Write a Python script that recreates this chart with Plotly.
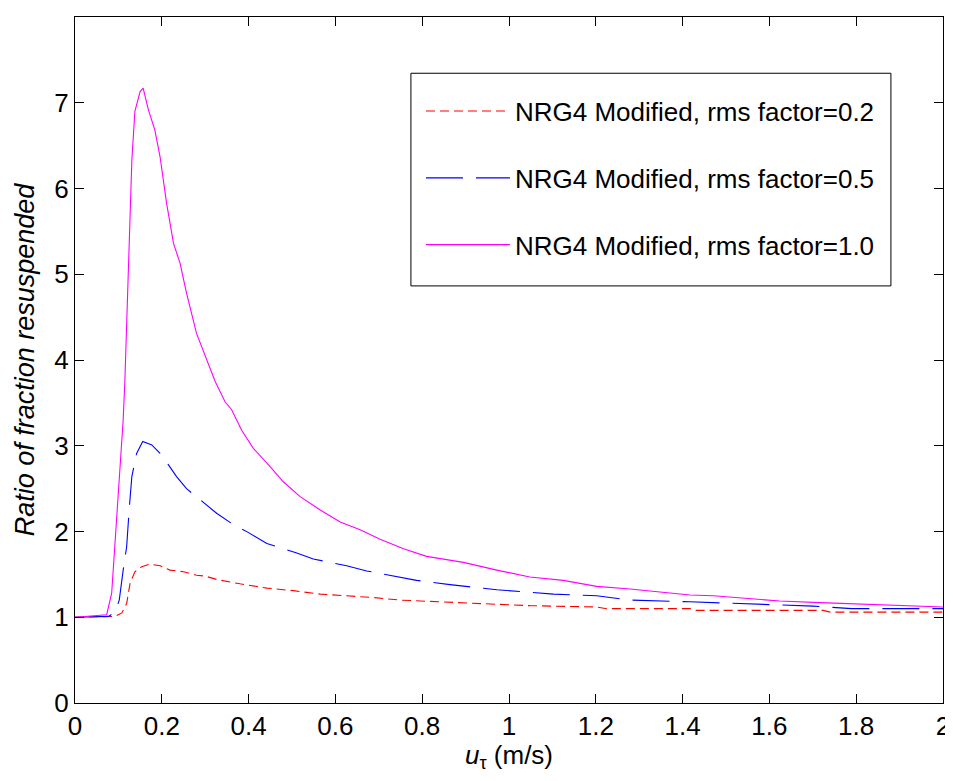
import plotly.graph_objects as go

# rms factor = 0.2 (red, dashed)
u_02 = [0.0, 0.092, 0.108, 0.119, 0.127, 0.138, 0.154, 0.173, 0.196, 0.219, 0.250, 0.280, 0.300,
        0.327, 0.380, 0.442, 0.503, 0.565, 0.626, 0.687, 0.749, 0.841, 0.895, 0.972, 1.048,
        1.202, 1.225, 1.417, 1.432, 1.724, 1.740, 2.0]
r_02 = [1.0, 1.01, 1.05, 1.16, 1.40, 1.53, 1.59, 1.62, 1.60, 1.55, 1.53, 1.49, 1.48,
        1.44, 1.39, 1.34, 1.31, 1.27, 1.25, 1.23, 1.20, 1.18, 1.17, 1.155, 1.135,
        1.12, 1.10, 1.10, 1.08, 1.08, 1.06, 1.06]

# rms factor = 0.5 (blue, long dash)
u_05 = [0.0, 0.077, 0.092, 0.102, 0.111, 0.119, 0.125, 0.131, 0.142, 0.156, 0.177, 0.196, 0.215,
        0.234, 0.257, 0.288, 0.327, 0.365, 0.399, 0.442, 0.511, 0.549, 0.626, 0.672, 0.745,
        0.787, 0.818, 0.864, 0.972, 1.048, 1.102, 1.202, 1.279, 1.417, 1.548, 1.70, 1.79, 2.0]
r_05 = [1.0, 1.01, 1.06, 1.20, 1.55, 1.82, 2.27, 2.64, 2.91, 3.05, 3.01, 2.91, 2.78,
        2.64, 2.50, 2.37, 2.21, 2.08, 1.99, 1.86, 1.75, 1.68, 1.60, 1.54, 1.47,
        1.43, 1.41, 1.38, 1.32, 1.29, 1.27, 1.25, 1.20, 1.18, 1.155, 1.13, 1.10, 1.10]

# rms factor = 1.0 (magenta, solid)
u_10 = [0.0, 0.073, 0.0845, 0.096, 0.111, 0.115, 0.123, 0.131, 0.138, 0.150, 0.157, 0.169, 0.184,
        0.196, 0.211, 0.227, 0.242, 0.257, 0.280, 0.300, 0.323, 0.346, 0.361, 0.384, 0.411,
        0.449, 0.480, 0.518, 0.565, 0.611, 0.657, 0.703, 0.757, 0.810, 0.864, 0.895, 0.972,
        1.048, 1.125, 1.202, 1.279, 1.356, 1.417, 1.471, 1.548, 1.624, 1.717, 1.816, 1.947, 2.0]
r_10 = [1.0, 1.03, 1.28, 2.13, 3.30, 3.77, 4.93, 6.33, 6.90, 7.13, 7.17, 6.92, 6.68,
        6.37, 5.83, 5.36, 5.13, 4.78, 4.31, 4.05, 3.75, 3.51, 3.42, 3.18, 2.97,
        2.76, 2.58, 2.41, 2.25, 2.11, 2.02, 1.91, 1.80, 1.71, 1.66, 1.64, 1.55,
        1.47, 1.43, 1.36, 1.33, 1.29, 1.26, 1.25, 1.22, 1.19, 1.17, 1.155, 1.13, 1.12]

names = ["NRG4 Modified, rms factor=0.2",
         "NRG4 Modified, rms factor=0.5",
         "NRG4 Modified, rms factor=1.0"]

x_ticks = [0, 0.2, 0.4, 0.6, 0.8, 1.0, 1.2, 1.4, 1.6, 1.8, 2.0]
x_labels = ["0", "0.2", "0.4", "0.6", "0.8", "1", "1.2", "1.4", "1.6", "1.8", "2"]
y_ticks = [0, 1, 2, 3, 4, 5, 6, 7, 8]

FONT = "Liberation Sans, Arial, sans-serif"

fig = go.Figure()
fig.add_trace(go.Scatter(x=u_02, y=r_02, mode="lines", name=names[0], legendgroup="a",
                         line=dict(color="#ff0000", width=1.1, dash="9px,5px")))
fig.add_trace(go.Scatter(x=u_05, y=r_05, mode="lines", name=names[1], legendgroup="b",
                         line=dict(color="#0000ff", width=1.1, dash="37px,13px")))
fig.add_trace(go.Scatter(x=u_10, y=r_10, mode="lines", name=names[2], legendgroup="c",
                         line=dict(color="#ff00ff", width=1.1)))

axis_common = dict(showgrid=False, zeroline=False, showline=True, mirror="ticks",
                   linecolor="black", linewidth=1, ticks="inside", ticklen=9,
                   tickcolor="black", tickfont=dict(size=26, color="black", family=FONT))

fig.update_xaxes(range=[0, 2], tickvals=x_ticks, ticktext=x_labels,
                 title=dict(text="<i>u</i><sub>τ</sub> (m/s)", font=dict(size=26, color="black", family=FONT),
                            standoff=4),
                 **axis_common)
fig.update_yaxes(range=[0, 8], tickvals=y_ticks,
                 title=dict(text="<i>Ratio of fraction resuspended</i>",
                            font=dict(size=27, color="black", family=FONT), standoff=11),
                 **axis_common)

# legend frame (styling only)
fig.add_shape(type="rect", xref="paper", yref="paper", x0=0.387, x1=0.940, y0=0.608, y1=0.918,
              line=dict(color="black", width=1), fillcolor="white", layer="below")

fig.update_layout(
    width=945, height=765,
    margin=dict(l=67, r=10, t=9, b=70, autoexpand=False),
    paper_bgcolor="white", plot_bgcolor="white",
    font=dict(family=FONT, color="black", size=26),
    legend=dict(x=0.3986, y=0.897, xanchor="left", yanchor="top",
                bgcolor="rgba(0,0,0,0)", borderwidth=0,
                font=dict(size=26, family=FONT, color="black"),
                traceorder="grouped", tracegroupgap=30, itemwidth=84),
    showlegend=True,
)

fig.write_html("out.html")
